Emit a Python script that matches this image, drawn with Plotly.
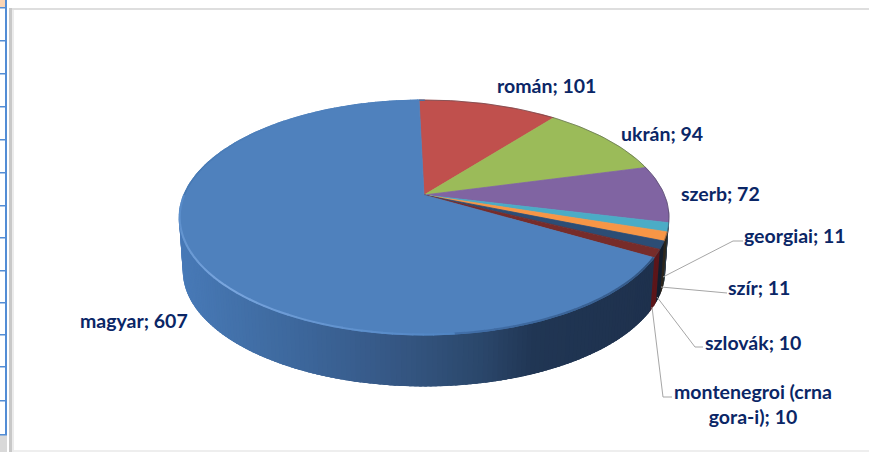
import numpy as np
import plotly.graph_objects as go

# ---- data ----
categories = ["román", "ukrán", "szerb", "georgiai", "szír", "szlovák", "montenegroi (crna gora-i)", "magyar"]
values = [101, 94, 72, 11, 11, 10, 10, 607]
top_colors = ["#C0504D", "#9BBB59", "#8064A2", "#4BACC6", "#F79646", "#2C4D75", "#772C2A", "#4F81BD"]
wall_dark = [(90, 30, 30), (70, 90, 40), (60, 45, 80), (40, 60, 70), (45, 38, 28), (20, 30, 46), (92, 22, 26), None]
label_text = ["román; 101", "ukrán; 94", "szerb; 72", "georgiai; 11", "szír; 11", "szlovák; 10",
              "montenegroi (crna<br>gora-i); 10", "magyar; 607"]
grid_ticks = [8, 41, 74, 107, 140, 173, 206, 238, 271, 303, 335, 367, 401]

# ---- view (oblique projection of the disc) ----
CX, CY, RX, RY, K = 424.0, 195.0, 240.5, 113.2, 0.1915
START_DEG, DEPTH, FOOT = -1.4, 54.0, 0.985


def project(theta_deg, radius=1.0, drop=0.0):
    t = np.radians(theta_deg)
    u, v = radius * np.sin(t), radius * np.cos(t)
    w = 1 + K * v
    return CX + RX * u / w, CY - RY * v / w + drop


def foot(theta_deg):
    return project(theta_deg, FOOT, DEPTH)


def mix(a, b, f):
    return tuple(a[i] + (b[i] - a[i]) * f for i in range(3))


def css(c):
    return "rgb(%d,%d,%d)" % tuple(int(round(x)) for x in c)


WALL_X = [175, 240, 300, 360, 420, 480, 530, 600, 670]
WALL_C = [(72, 122, 184), (66, 112, 168), (60, 102, 154), (56, 92, 140), (50, 82, 124),
          (42, 70, 106), (32, 54, 84), (31, 51, 80), (30, 48, 76)]


def wall_shade(x):
    return tuple(np.interp(x, WALL_X, [c[i] for c in WALL_C]) for i in range(3))


fig = go.Figure()


def poly(xs, ys, color, lw=0.8):
    fig.add_trace(go.Scatter(x=list(xs), y=list(ys), mode="lines", fill="toself", fillcolor=color,
                             line=dict(color=color, width=lw), hoverinfo="skip", showlegend=False))


# slice angles come from the values
edges = START_DEG + np.concatenate([[0], np.cumsum(values)]) / np.sum(values) * 360.0

# walls: each strip overlaps the next one so that no seams show
segs = []
for i in range(len(values)):
    a0, a1 = edges[i], edges[i + 1]
    lo, hi = max(a0, 97.0), min(a1, 263.0)
    n = max(1, int((hi - lo) / 1.0)) if hi > lo else 0
    for j in range(n):
        segs.append((lo + (hi - lo) * j / n, lo + (hi - lo) * (j + 1) / n, i))
segs.sort(key=lambda s: s[0])
for a, b, i in segs:
    pair = np.array([a, min(b + 1.5, 263.0)])
    tx, ty = project(pair)
    bx, by = foot(pair)
    mid = (tx[0] + tx[1]) / 2
    col = wall_shade(mid) if wall_dark[i] is None else wall_dark[i]
    poly([tx[0], tx[1], bx[1], bx[0], tx[0]], [ty[0], ty[1], by[1], by[0], ty[0]], css(col), 0)

# top faces
for i in range(len(values)):
    ang = np.linspace(edges[i], edges[i + 1], max(3, int(edges[i + 1] - edges[i]) + 2))
    x, y = project(ang)
    poly(np.r_[CX, x, CX], np.r_[CY, y, CY], top_colors[i])

# bevel around the rim
for a in np.arange(edges[7], 358.6, 2.0):
    seg = np.array([a, a + 2.2])
    x, y = project(seg, 0.997)
    d = (a + 1.1)
    if d < 175:
        f = (d - 120) / 55
        col = mix((50, 84, 128), (66, 112, 170), f)
        lw = 2.0
    elif d < 270:
        f = abs(d - 225) / 45
        col = mix((122, 166, 222), (84, 136, 198), f)
        lw = 2.0
    else:
        col = mix((70, 120, 178), (79, 129, 189), min(1, (d - 270) / 50))
        lw = 1.5
    fig.add_trace(go.Scatter(x=x, y=y, mode="lines", line=dict(color=css(col), width=lw),
                             hoverinfo="skip", showlegend=False))

# thin darker rim on the right of the small slices
a = np.linspace(edges[0], edges[7], 60)
x, y = project(a, 1.0)
fig.add_trace(go.Scatter(x=x, y=y, mode="lines", line=dict(color="rgba(60,60,70,0.45)", width=1),
                         hoverinfo="skip", showlegend=False))

# labels and leader lines
FONT = dict(family="Lato, Carlito, sans-serif", size=19.5, color="#0A2666")
LABEL_POS = [(546, 85), (662, 133), (720, 193), (795, 235), (759, 287), (753, 342), (753, 404), (134, 320)]
for txt, (px, py) in zip(label_text, LABEL_POS):
    fig.add_annotation(x=px, y=py, xref="x", yref="y", text="<b>%s</b>" % txt, showarrow=False,
                       font=FONT, align="center", xanchor="center", yanchor="middle")

LEADERS = [[(663, 277), (733, 241), (743, 241)], [(661, 287), (720, 293), (727, 293)],
           [(657, 297), (695, 347), (703, 347)], [(652, 307), (663, 397), (672, 397)]]
for pts in LEADERS:
    fig.add_trace(go.Scatter(x=[p[0] for p in pts], y=[p[1] for p in pts], mode="lines",
                             line=dict(color="#A6A6A6", width=1), hoverinfo="skip", showlegend=False))

# the page frame behind the chart
shapes = [
    dict(type="rect", x0=0, x1=5, y0=0, y1=8, fillcolor="#FBD5B5", line_width=0, layer="below"),
    dict(type="rect", x0=0, x1=7, y0=434, y1=452, fillcolor="#D9D9D9", line_width=0, layer="below"),
    dict(type="rect", x0=5, x1=7, y0=0, y1=434, fillcolor="#538DD5", line_width=0, layer="below"),
    dict(type="rect", x0=0, x1=7, y0=434, y1=435.5, fillcolor="#538DD5", line_width=0, layer="below"),
    dict(type="rect", x0=9, x1=869, y0=8, y1=10, fillcolor="#DEDEDE", line_width=0, layer="below"),
    dict(type="rect", x0=9, x1=12, y0=8, y1=452, fillcolor="#C8C8C8", line_width=0, layer="below"),
    dict(type="rect", x0=12, x1=14, y0=10, y1=452, fillcolor="#EBEBEB", line_width=0, layer="below"),
    dict(type="rect", x0=14, x1=869, y0=450, y1=452, fillcolor="#EEEEEE", line_width=0, layer="below"),
]
for t in grid_ticks:
    shapes.append(dict(type="rect", x0=0, x1=6, y0=t - 1, y1=t + 0.5, fillcolor="#538DD5",
                       line_width=0, layer="below"))

fig.update_layout(
    width=869, height=452, autosize=False, margin=dict(l=0, r=0, t=0, b=0),
    paper_bgcolor="white", plot_bgcolor="white", showlegend=False, shapes=shapes,
    xaxis=dict(range=[0, 869], visible=False, fixedrange=True),
    yaxis=dict(range=[452, 0], visible=False, fixedrange=True),
)
fig.write_html("out.html", config=dict(displayModeBar=False),
               post_script="document.body.style.margin='0';document.documentElement.style.overflow='hidden';")
